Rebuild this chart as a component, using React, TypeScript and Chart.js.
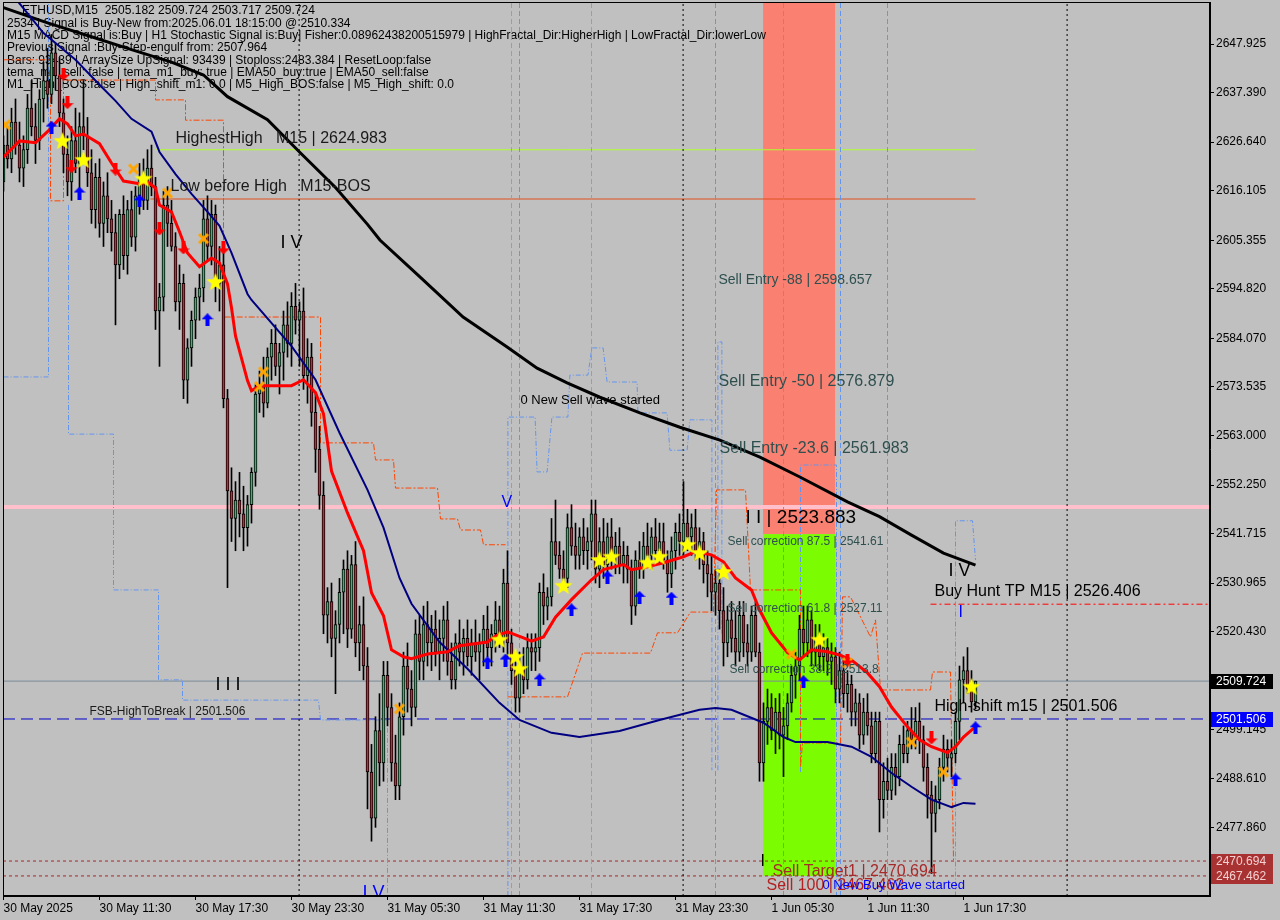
import React, { useEffect, useRef } from "react";
import { Chart, registerables } from "chart.js";
Chart.register(...registerables);

// ---------------- DATA ----------------
const opens = [
  2618,2626,2623,2631,2626,2621,2625,2634,2630,2627,
  2636,2640,2637,2646,2641,2633,2624,2618,2627,2622,
  2630,2628,2620,2612,2619,2609,2615,2610,2607,2600,
  2611,2602,2612,2606,2615,2619,2614,2621,2617,2590,
  2593,2613,2609,2604,2592,2596,2575,2582,2588,2593,
  2595,2610,2604,2611,2596,2600,2571,2551,2545,2549,
  2546,2543,2548,2555,2572,2574,2570,2580,2583,2578,
  2581,2587,2583,2591,2588,2590,2576,2580,2568,2560,
  2550,2524,2527,2519,2522,2529,2534,2521,2535,2518,
  2522,2513,2490,2480,2499,2492,2511,2504,2492,2487,
  2502,2513,2508,2504,2520,2514,2522,2518,2521,2516,
  2519,2523,2514,2510,2518,2516,2519,2515,2518,2516,
  2518,2521,2517,2520,2523,2519,2531,2518,2512,2506,
  2513,2510,2517,2516,2517,2529,2526,2528,2540,2537,
  2534,2532,2543,2539,2537,2541,2538,2540,2546,2534,
  2540,2535,2541,2537,2539,2535,2537,2534,2526,2536,
  2534,2539,2537,2541,2538,2540,2536,2533,2538,2542,
  2540,2544,2541,2543,2538,2540,2535,2533,2529,2531,
  2525,2518,2523,2519,2516,2524,2518,2516,2524,2516,
  2492,2501,2504,2499,2503,2498,2500,2505,2511,2513,
  2521,2518,2523,2516,2519,2515,2517,2514,2515,2508,
  2512,2507,2509,2503,2505,2498,2503,2500,2494,2501,
  2484,2488,2486,2491,2489,2496,2494,2499,2497,2501,
  2497,2491,2485,2481,2484,2491,2495,2493,2494,2501,
  2510,2512,2508,2505.182,
];
const highs = [
  2628,2630,2634,2636,2631,2628,2637,2640,2635,2638,
  2644,2647,2650,2648,2645,2636,2628,2630,2634,2633,
  2640,2632,2625,2622,2623,2618,2620,2614,2611,2612,
  2615,2614,2616,2617,2622,2623,2625,2626,2619,2596,
  2616,2617,2614,2607,2600,2598,2584,2590,2595,2598,
  2614,2615,2614,2613,2604,2603,2573,2556,2553,2555,
  2552,2550,2556,2574,2577,2580,2582,2586,2587,2583,
  2590,2592,2594,2596,2592,2595,2584,2583,2572,2565,
  2553,2530,2531,2525,2532,2536,2538,2537,2540,2526,
  2528,2517,2496,2502,2507,2514,2514,2507,2498,2505,
  2516,2518,2512,2523,2524,2526,2527,2524,2525,2523,
  2526,2527,2518,2520,2523,2521,2523,2521,2523,2520,
  2524,2526,2522,2527,2526,2534,2538,2521,2516,2516,
  2517,2520,2520,2520,2531,2533,2530,2545,2549,2540,
  2538,2546,2548,2544,2543,2545,2543,2549,2549,2543,
  2545,2544,2545,2542,2543,2540,2539,2536,2538,2540,
  2542,2544,2543,2545,2544,2544,2538,2541,2544,2546,
  2553,2547,2546,2547,2543,2542,2538,2537,2534,2534,
  2530,2526,2527,2525,2527,2527,2522,2526,2527,2518,
  2505,2508,2507,2506,2507,2504,2507,2513,2516,2524,
  2526,2526,2525,2522,2522,2520,2519,2518,2517,2516,
  2515,2512,2511,2508,2507,2506,2507,2503,2503,2503,
  2492,2493,2494,2494,2498,2500,2501,2504,2504,2505,
  2500,2494,2488,2487,2493,2498,2497,2497,2503,2513,
  2515,2517,2512,2509.724,
];
const lows = [
  2616,2621,2620,2624,2618,2617,2622,2628,2622,2625,
  2631,2634,2635,2638,2630,2620,2615,2614,2620,2616,
  2625,2617,2609,2608,2606,2604,2607,2603,2587,2597,
  2599,2598,2604,2603,2611,2612,2612,2615,2586,2578,
  2590,2604,2603,2590,2586,2571,2570,2578,2584,2588,
  2592,2601,2600,2592,2590,2569,2530,2540,2538,2541,
  2538,2539,2544,2552,2568,2567,2569,2575,2576,2572,
  2575,2580,2578,2585,2578,2573,2570,2565,2555,2547,
  2520,2518,2515,2507,2518,2520,2517,2519,2515,2512,
  2510,2482,2475,2478,2487,2488,2500,2488,2484,2484,
  2498,2503,2500,2502,2510,2510,2513,2512,2513,2510,
  2514,2511,2508,2508,2513,2511,2513,2511,2514,2510,
  2513,2515,2513,2516,2517,2516,2515,2509,2503,2503,
  2507,2508,2512,2512,2514,2522,2523,2526,2535,2532,
  2530,2530,2537,2534,2534,2535,2534,2536,2531,2530,
  2532,2531,2534,2533,2533,2531,2531,2522,2524,2532,
  2532,2535,2534,2536,2535,2534,2529,2530,2534,2537,
  2537,2538,2537,2536,2534,2531,2528,2525,2524,2521,
  2513,2515,2516,2513,2514,2515,2513,2514,2515,2488,
  2488,2496,2497,2494,2495,2489,2497,2503,2506,2510,
  2515,2515,2513,2513,2512,2512,2511,2509,2505,2505,
  2504,2503,2500,2500,2495,2496,2498,2492,2492,2477,
  2480,2484,2484,2485,2487,2492,2492,2495,2495,2494,
  2488,2480,2468,2477,2482,2488,2490,2489,2492,2497,
  2505,2507,2503,2503.717,
];
const closes = [
  2626,2623,2631,2626,2621,2625,2634,2630,2627,2636,
  2640,2637,2646,2641,2633,2624,2618,2627,2622,2630,
  2628,2620,2612,2619,2609,2615,2610,2607,2600,2611,
  2602,2612,2606,2615,2619,2614,2621,2617,2590,2593,
  2613,2609,2604,2592,2596,2575,2582,2588,2593,2595,
  2610,2604,2611,2596,2600,2571,2551,2545,2549,2546,
  2543,2548,2555,2572,2574,2570,2580,2583,2578,2581,
  2587,2583,2591,2588,2590,2576,2580,2568,2560,2550,
  2524,2527,2519,2522,2529,2534,2521,2535,2518,2522,
  2513,2490,2480,2499,2492,2511,2504,2492,2487,2502,
  2513,2508,2504,2520,2514,2522,2518,2521,2516,2519,
  2523,2514,2510,2518,2516,2519,2515,2518,2516,2518,
  2521,2517,2520,2523,2519,2531,2518,2512,2506,2513,
  2510,2517,2516,2517,2529,2526,2528,2540,2537,2534,
  2532,2543,2539,2537,2541,2538,2540,2546,2534,2540,
  2535,2541,2537,2539,2535,2537,2534,2526,2536,2534,
  2539,2537,2541,2538,2540,2536,2533,2538,2542,2540,
  2544,2541,2543,2538,2540,2535,2533,2529,2531,2525,
  2518,2523,2519,2516,2524,2518,2516,2524,2516,2492,
  2501,2504,2499,2503,2498,2500,2505,2511,2513,2521,
  2518,2523,2516,2519,2515,2517,2514,2515,2508,2512,
  2507,2509,2503,2505,2498,2503,2500,2494,2501,2484,
  2488,2486,2491,2489,2496,2494,2499,2497,2501,2497,
  2491,2485,2481,2484,2491,2495,2493,2494,2501,2510,
  2512,2508,2505.182,2509.724,
];

// moving averages (bar index, price)
const redEmaX = [0,4,8,11,14,16,18,20,24,27,30,34,36,38,39,42,44,46,49,52,54,56,57,58,61,62,64,68,72,75,78,80,82,86,90,92,95,97,100,102,106,111,114,121,123,126,130,132,135,138,142,147,150,155,157,161,165,170,173,177,180,183,187,189,192,196,199,202,206,209,212,216,219,222,226,229,232,236,238,240,242,243];
const redEmaY = [2623.4,2626.9,2626.5,2628.9,2631.7,2630.6,2628.0,2628.4,2626.3,2622.1,2618.2,2617.6,2618.0,2616.7,2613.0,2611.5,2607.2,2602.6,2599.6,2601.5,2600.4,2595.9,2590.7,2584.6,2574.9,2572.7,2573.8,2573.8,2573.8,2575.1,2572.3,2567.7,2555.3,2546.2,2538.0,2528.9,2523.9,2516.5,2515.0,2514.6,2515.6,2516.1,2517.4,2518.2,2519.5,2520.4,2519.1,2518.4,2519.3,2523.6,2527.4,2531.7,2533.9,2535.0,2533.9,2534.5,2535.4,2536.7,2537.8,2537.1,2535.6,2532.1,2529.5,2525.2,2520.2,2515.9,2514.3,2516.5,2516.1,2515.4,2514.3,2511.5,2508.5,2504.1,2499.8,2497.0,2495.5,2494.2,2495.5,2497.6,2499.1,2499.8];
const navyMaX = [0,10,18,24,28,32,37,39,43,47,51,54,57,61,62,72,78,84,91,95,99,102,109,116,124,129,137,144,154,164,174,178,182,190,195,198,206,212,217,222,227,232,237,240,243];
const navyMaY = [2661.0,2650.3,2644.5,2639.1,2635.6,2631.7,2628.9,2624.5,2619.7,2615.4,2611.5,2608.5,2602.6,2593.7,2592.4,2582.4,2575.1,2563.6,2551.2,2543.0,2532.1,2526.5,2518.2,2512.4,2505.0,2501.3,2498.5,2497.6,2498.9,2501.3,2503.5,2503.9,2503.5,2500.7,2497.6,2496.5,2496.5,2495.5,2493.3,2489.8,2486.8,2484.0,2482.4,2483.3,2483.1];
const blackMaX = [0,11,22,32,42,50,56,66,74,83,91,94.1,104.1,114.9,125.9,133.4,140.9,149.1,159.1,169.1,179.1,189.1,199.1,211,219,227,235,243];
const blackMaY = [2655.8,2652.5,2649.5,2646.7,2644.0,2641.2,2636.5,2631.5,2624.5,2616.8,2608.8,2605.4,2597.4,2588.7,2582.2,2577.6,2574.4,2571.3,2567.9,2564.8,2562.0,2558.3,2554.0,2548.6,2545.4,2541.4,2537.5,2534.9];

// dashed step bands
const orangeStep1X = [0,11.75,11.75,15,15,38,38,45.5,45.5,55,55,79.25,79.25,92.5,93,97.5,98,108.5,109.25,113.5,114.25,119.25,120,125.5];
const orangeStep1Y = [2644.5,2644.5,2613.9,2613.9,2640.1,2640.1,2635.8,2635.8,2631.4,2631.4,2588.7,2588.7,2561.4,2561.4,2557.7,2557.7,2551.6,2551.6,2544.9,2544.9,2542.5,2542.5,2539.3,2539.3];
const orangeStep2X = [126,141,144.75,161.75,163.5,168.5,171.75,177.5];
const orangeStep2Y = [2506.3,2506.3,2515.8,2515.8,2520.2,2520.2,2524.7,2524.7];
const orangeStep3X = [177.5,178.25,185.5,186.75,199.25,199.25,199.75,209.25,209.75,211.75,216.75,218,219.25,231.75,232.25,236.75,237.5];
const orangeStep3Y = [2524.7,2551.2,2551.2,2529.5,2529.5,2491.1,2496.3,2496.3,2528.0,2528.0,2519.3,2523.0,2507.8,2507.8,2511.7,2511.7,2470.9];
const blueStep1X = [0,11.25,11.25];
const blueStep1Y = [2575.7,2575.7,2660];
const blueStep2X = [16.25,16.25,27.5,27.5,38.75,38.75,44.75,44.75,78.75,79.25,96,96];
const blueStep2Y = [2613.0,2563.3,2563.3,2529.5,2529.5,2510.0,2510.0,2505.6,2505.6,2501.3,2501.3,2460];
const blueStep3X = [126.1,126.1,132.9,133.4,135.9,137.1,141.1,141.6,146.1,147.1,149.9,150.9,158.4,158.6,165.9,166.6,170.9,171.6,177.1,177.1];
const blueStep3Y = [2463.1,2567.0,2567.0,2555.1,2555.1,2567.0,2567.0,2576.1,2576.1,2582.0,2582.0,2574.6,2574.6,2567.9,2567.9,2559.8,2559.8,2566.4,2566.4,2490.4];
const blueStep4X = [178.6,178.6,179.6,179.6];
const blueStep4Y = [2490.4,2583.3,2583.3,2520];
const blueStep5X = [199.25,199.25,208.25,208.25];
const blueStep5Y = [2490,2556.6,2556.6,2460];
const blueStep6X = [238,238,242.25,243];
const blueStep6Y = [2463,2544.5,2544.5,2536];

// horizontal levels
const highestHigh = 2624.983;
const lowBeforeHigh = 2614.3;
const pinkLevel = 2547.5;
const bidPrice = 2509.724;
const fsbHigh = 2501.506;
const buyHuntTP = 2526.406;
const sellTarget1 = 2470.694;
const sell100 = 2467.462;
const highestHighFrom = 38;
const lowBeforeHighFrom = 36.75;
const buyHuntFrom = 231.75;
const levelsEnd = 243;

// zones
const zoneFrom = 189.9;
const zoneTo = 207.9;
const zoneSplit = 2541.61;
const zoneBottom = 2467.462;

// vertical separators
const daySeparators = [73.9, 169.9, 265.9];
const pinkVLines = [127, 147];
const cyanVLines = [129, 195, 221];
const blueVLines = [178, 209.25];

// markers
const starX = [14.75,20,35,53,124,128,129,140,149,152,161,164,171,174,180,204,242];
const starY = [2626.9,2622.8,2618.7,2596.3,2518.7,2515.0,2512.4,2530.4,2536.0,2536.7,2535.4,2536.7,2539.3,2537.5,2533.4,2518.7,2508.5];
const crossX = [0.5,32.5,41,50,64,65,99,197,211,227,235];
const crossY = [2630.4,2620.8,2615.6,2605.7,2573.6,2576.8,2503.7,2515.6,2513.7,2496.5,2490.0];
const upArrowX = [12,19,34,51,121,125.5,134,142,151,159,167,200,238,243];
const upArrowY = [2629.9,2615.6,2613.9,2588.1,2513.7,2514.3,2510.0,2525.2,2532.3,2527.9,2527.7,2509.6,2488.3,2499.6];
const downArrowX = [15,16,17,28,39,45,55,211,232];
const downArrowY = [2641.4,2635.2,2621.3,2620.8,2607.8,2603.7,2603.7,2514.3,2497.4];

// axes
const yTickValues = [2647.925,2637.390,2626.640,2616.105,2605.355,2594.820,2584.070,2573.535,2563.000,2552.250,2541.715,2530.965,2520.430,2499.145,2488.610,2477.860];
const xTickIdx = [0,24,48,72,96,120,144,168,192,216,240];
const xTickLabels = ["30 May 2025","30 May 11:30","30 May 17:30","30 May 23:30","31 May 05:30","31 May 11:30","31 May 17:30","31 May 23:30","1 Jun 05:30","1 Jun 11:30","1 Jun 17:30"];
const priceTags = [2509.724, 2501.506, 2470.694, 2467.462];

// texts
const headerLines = [
  "ETHUSD,M15  2505.182 2509.724 2503.717 2509.724",
  "2534 | Signal is Buy-New from:2025.06.01 18:15:00 @ 2510.334",
  "M15 MACD Signal is:Buy | H1 Stochastic Signal is:Buy| Fisher:0.08962438200515979 | HighFractal_Dir:HigherHigh | LowFractal_Dir:lowerLow",
  "Previous Signal :Buy-Step-engulf from: 2507.964",
  "Bars: 93439 | ArraySize UpSignal: 93439 | Stoploss:2483.384 | ResetLoop:false",
  "tema_m1_sell: false | tema_m1_buy: true | EMA50_buy:true | EMA50_sell:false",
  "M1_High_BOS:false | High_shift_m1: 0.0 | M5_High_BOS:false | M5_High_shift: 0.0",
];
const annText = ["HighestHigh   M15 | 2624.983","Low before High   M15-BOS","I V","Sell Entry -88 | 2598.657","Sell Entry -50 | 2576.879","Sell Entry -23.6 | 2561.983","0 New Sell wave started","V","I I | 2523.883","Sell correction 87.5 | 2541.61","Sell correction 61.8 | 2527.11","Sell correction 38.2 | 2513.8","I V","Buy Hunt TP M15 | 2526.406","I","High-shift m15 | 2501.506","I I I","FSB-HighToBreak | 2501.506","I","Sell 100 | 2467.462","Sell Target1 | 2470.694","0 New Buy Wave started","I V"];
const annX = [43,41.75,69.25,178.75,178.75,179,129.25,124.5,185.5,181,181,181.5,236.25,232.75,238.75,232.75,53,21.5,189.25,190.75,192.25,204.75,89.75];
const annY = [2627.5,2616.9,2604.8,2596.7,2574.8,2560.1,2570.7,2548.4,2545.1,2539.9,2525.4,2512.1,2533.6,2529.1,2524.5,2504.1,2508.9,2503.0,2470.5,2465.3,2468.5,2465.3,2463.8];

// ---------------- STYLES ----------------
const FONT = "'Liberation Sans', Arial, sans-serif";
const annSize = [16,16,18,14,16,16,13,16,19,12,12,12,18,16,16,16,18,12,16,16,16,13,18];
const annColor = ["#1a1a1a","#1a1a1a","#000","#2f4f4f","#2f4f4f","#2f4f4f","#000","#0000ff","#000","#2f4f4f","#2f4f4f","#2f4f4f","#000","#000","#0000ff","#000","#000","#1a1a1a","#000","#b22222","#a52a2a","#0000ff","#0000ff"];
const tagBg = ["#000000", "#0000ff", "#a83232", "#a83232"];
const tagFg = ["#ffffff", "#ffffff", "#f4d0d0", "#f4d0d0"];
const BULL = "#3cb371";
const BEAR = "#c82837";

function makeArrow(color: string, up: boolean) {
  const c = document.createElement("canvas");
  c.width = 12; c.height = 13;
  const g = c.getContext("2d")!;
  g.fillStyle = color;
  g.beginPath();
  if (up) {
    g.moveTo(6, 0); g.lineTo(12, 6); g.lineTo(8, 6); g.lineTo(8, 13); g.lineTo(4, 13); g.lineTo(4, 6); g.lineTo(0, 6);
  } else {
    g.moveTo(6, 13); g.lineTo(12, 7); g.lineTo(8, 7); g.lineTo(8, 0); g.lineTo(4, 0); g.lineTo(4, 7); g.lineTo(0, 7);
  }
  g.closePath(); g.fill();
  return c;
}
function makeStar() {
  const c = document.createElement("canvas");
  c.width = 20; c.height = 20;
  const g = c.getContext("2d")!;
  g.fillStyle = "#ffff00";
  g.beginPath();
  for (let k = 0; k < 10; k++) {
    const r = k % 2 === 0 ? 9.5 : 4;
    const a = -Math.PI / 2 + (k * Math.PI) / 5;
    const px = 10 + r * Math.cos(a), py = 10.5 + r * Math.sin(a);
    if (k === 0) g.moveTo(px, py); else g.lineTo(px, py);
  }
  g.closePath(); g.fill();
  return c;
}
function makeCross() {
  const c = document.createElement("canvas");
  c.width = 13; c.height = 13;
  const g = c.getContext("2d")!;
  g.strokeStyle = "#ffa500"; g.lineWidth = 3;
  g.beginPath(); g.moveTo(2, 2); g.lineTo(11, 11); g.moveTo(11, 2); g.lineTo(2, 11); g.stroke();
  return c;
}

const pts = (xs: number[], ys: number[]) => xs.map((x, k) => ({ x, y: ys[k] }));
const lineDs = (data: any[], color: string, width: number, dash: number[], order: number) => ({
  type: "line", data, borderColor: color, borderWidth: width, borderDash: dash,
  pointRadius: 0, fill: false, tension: 0, order, spanGaps: false,
});

export default function App() {
  const ref = useRef<HTMLCanvasElement | null>(null);
  useEffect(() => {
    const canvas = ref.current!;
    const star = makeStar(), cross = makeCross();
    const upA = makeArrow("#0000ff", true), downA = makeArrow("#ff0000", false);
    const X0 = -0.125, X1 = 301.625, Y0 = 2463.109, Y1 = 2657.036;

    const datasets: any[] = [];
    // levels
    datasets.push(lineDs([{ x: X0, y: pinkLevel }, { x: X1, y: pinkLevel }], "#ffc0cb", 4, [], 100));
    datasets.push(lineDs([{ x: highestHighFrom, y: highestHigh }, { x: levelsEnd, y: highestHigh }], "#adff2f", 1, [], 99));
    datasets.push(lineDs([{ x: lowBeforeHighFrom, y: lowBeforeHigh }, { x: levelsEnd, y: lowBeforeHigh }], "#e0501e", 1, [], 99));
    datasets.push(lineDs([{ x: X0, y: bidPrice }, { x: X1, y: bidPrice }], "#7a8a99", 1, [], 99));
    datasets.push(lineDs([{ x: X0, y: fsbHigh }, { x: X1, y: fsbHigh }], "#0000c8", 1, [12, 6], 99));
    datasets.push(lineDs([{ x: buyHuntFrom, y: buyHuntTP }, { x: X1, y: buyHuntTP }], "#ff0000", 1, [6, 3, 2, 3], 99));
    datasets.push(lineDs([{ x: X0, y: sellTarget1 }, { x: X1, y: sellTarget1 }], "#a52a2a", 1, [3, 3], 99));
    datasets.push(lineDs([{ x: X0, y: sell100 }, { x: X1, y: sell100 }], "#a52a2a", 1, [3, 3], 99));
    // vertical lines
    daySeparators.forEach((v) => datasets.push(lineDs([{ x: v, y: Y0 }, { x: v, y: Y1 }], "#000000", 1, [2, 3], 95)));
    pinkVLines.forEach((v) => datasets.push(lineDs([{ x: v, y: Y0 }, { x: v, y: Y1 }], "#ff69b4", 1, [5, 3], 95)));
    cyanVLines.forEach((v) => datasets.push(lineDs([{ x: v, y: Y0 }, { x: v, y: Y1 }], "#00ced1", 1, [5, 3], 95)));
    blueVLines.forEach((v) => datasets.push(lineDs([{ x: v, y: Y0 }, { x: v, y: Y1 }], "#6495ed", 1, [5, 3], 95)));
    // step bands
    const oDash = [6, 2, 2, 2], bDash = [5, 2, 1, 2];
    datasets.push(lineDs(pts(orangeStep1X, orangeStep1Y), "#ff4500", 1, oDash, 90));
    datasets.push(lineDs(pts(orangeStep2X, orangeStep2Y), "#ff4500", 1, oDash, 90));
    datasets.push(lineDs(pts(orangeStep3X, orangeStep3Y), "#ff4500", 1, oDash, 90));
    datasets.push(lineDs(pts(blueStep1X, blueStep1Y), "#6495ed", 1, bDash, 90));
    datasets.push(lineDs(pts(blueStep2X, blueStep2Y), "#6495ed", 1, bDash, 90));
    datasets.push(lineDs(pts(blueStep3X, blueStep3Y), "#6495ed", 1, bDash, 90));
    datasets.push(lineDs(pts(blueStep4X, blueStep4Y), "#6495ed", 1, bDash, 90));
    datasets.push(lineDs(pts(blueStep5X, blueStep5Y), "#6495ed", 1, bDash, 90));
    datasets.push(lineDs(pts(blueStep6X, blueStep6Y), "#6495ed", 1, bDash, 90));
    // candles
    datasets.push({
      type: "bar", order: 70, grouped: false, barThickness: 1,
      data: lows.map((l, i) => ({ x: i, y: [l, highs[i]] })),
      backgroundColor: "#000000", borderWidth: 0,
    });
    datasets.push({
      type: "bar", order: 60, grouped: false, barThickness: 3,
      data: opens.map((o, i) => ({ x: i, y: [o, closes[i]] })),
      backgroundColor: (c: any) => (closes[c.dataIndex] >= opens[c.dataIndex] ? BULL : BEAR),
      borderColor: "#000000", borderWidth: 1, borderSkipped: false,
    });
    // MAs
    datasets.push(lineDs(pts(blackMaX, blackMaY), "#000000", 3, [], 50));
    datasets.push(lineDs(pts(navyMaX, navyMaY), "#000080", 2, [], 45));
    datasets.push(lineDs(pts(redEmaX, redEmaY), "#ff0000", 3, [], 40));
    // markers
    const mk = (xs: number[], ys: number[], img: any, order: number) => ({
      type: "line", data: pts(xs, ys), showLine: false, pointStyle: img, pointRadius: 6, order,
    });
    datasets.push(mk(crossX, crossY, cross, 12));
    datasets.push(mk(upArrowX, upArrowY, upA, 11));
    datasets.push(mk(downArrowX, downArrowY, downA, 11));
    datasets.push(mk(starX, starY, star, 10));

    const bgPlugin = {
      id: "bg",
      beforeDraw(chart: any) {
        const ctx = chart.ctx;
        ctx.save(); ctx.fillStyle = "#c0c0c0"; ctx.fillRect(0, 0, chart.width, chart.height); ctx.restore();
      },
      beforeDatasetsDraw(chart: any) {
        const { ctx, chartArea: a, scales } = chart;
        const xs = scales.x, ys = scales.y;
        ctx.save();
        ctx.beginPath(); ctx.rect(a.left, a.top, a.right - a.left, a.bottom - a.top); ctx.clip();
        const x1 = xs.getPixelForValue(zoneFrom), x2 = xs.getPixelForValue(zoneTo);
        const ySplit = ys.getPixelForValue(zoneSplit), yBot = ys.getPixelForValue(zoneBottom);
        ctx.fillStyle = "#fa8072";
        ctx.fillRect(x1, a.top, x2 - x1, ySplit - a.top);
        ctx.fillStyle = "#7cfc00";
        ctx.fillRect(x1, ySplit, x2 - x1, yBot - ySplit);
        ctx.fillStyle = "#000"; ctx.font = `12px ${FONT}`; ctx.textBaseline = "middle"; ctx.textAlign = "left";
        headerLines.forEach((t, k) => ctx.fillText(t, k === 0 ? 22 : 7, 11 + k * 12.3));
        ctx.restore();
      },
      afterDatasetsDraw(chart: any) {
        const { ctx, chartArea: a, scales } = chart;
        const xs = scales.x, ys = scales.y;
        ctx.save();
        ctx.beginPath(); ctx.rect(a.left, a.top, a.right - a.left, a.bottom - a.top); ctx.clip();
        ctx.textBaseline = "middle"; ctx.textAlign = "left";
        annText.forEach((t, k) => {
          ctx.font = `${annSize[k]}px ${FONT}`;
          ctx.fillStyle = annColor[k];
          ctx.fillText(t, xs.getPixelForValue(annX[k]), ys.getPixelForValue(annY[k]));
        });
        ctx.restore();
        ctx.save();
        ctx.strokeStyle = "#000"; ctx.lineWidth = 1;
        ctx.strokeRect(a.left + 0.5, a.top + 0.5, a.right - a.left - 1, a.bottom - a.top - 1);
        ctx.restore();
      },
      afterDraw(chart: any) {
        const { ctx, chartArea: a, scales } = chart;
        const ys = scales.y;
        ctx.save();
        ctx.font = `12px ${FONT}`; ctx.textBaseline = "middle"; ctx.textAlign = "left";
        priceTags.forEach((v, k) => {
          const y = Math.round(ys.getPixelForValue(v));
          ctx.fillStyle = tagBg[k];
          ctx.fillRect(a.right + 1, y - 7, 62, 15);
          ctx.fillStyle = tagFg[k];
          ctx.fillText(v.toFixed(3), a.right + 6, y + 0.5);
        });
        ctx.restore();
      },
    };

    const chart = new Chart(canvas, {
      type: "bar",
      data: { datasets },
      options: {
        animation: false,
        responsive: false,
        devicePixelRatio: 1,
        events: [],
        layout: { padding: { left: 3, top: 2, right: 0, bottom: 0 }, autoPadding: false },
        plugins: { legend: { display: false }, tooltip: { enabled: false } },
        scales: {
          x: {
            type: "linear", min: X0, max: X1, offset: false,
            grid: { offset: false, drawOnChartArea: false, drawTicks: true, tickLength: 4, color: "#000" },
            border: { display: true, color: "#000" },
            ticks: {
              align: "start", maxRotation: 0, minRotation: 0, autoSkip: false, padding: 1, color: "#000",
              font: { family: FONT, size: 12 },
              callback: (_v: any, idx: number) => xTickLabels[idx] ?? "",
            },
            afterBuildTicks: (s: any) => { s.ticks = xTickIdx.map((v) => ({ value: v })); },
            afterFit: (s: any) => { s.height = 24; s.paddingLeft = 0; s.paddingRight = 0; },
          },
          y: {
            type: "linear", position: "right", min: Y0, max: Y1,
            grid: { drawOnChartArea: false, drawTicks: true, tickLength: 4, color: "#000" },
            border: { display: true, color: "#000" },
            ticks: {
              padding: 2, color: "#000", font: { family: FONT, size: 12 },
              callback: (v: any) => Number(v).toFixed(3),
            },
            afterBuildTicks: (s: any) => { s.ticks = yTickValues.map((v) => ({ value: v })); },
            afterFit: (s: any) => { s.width = 70; s.paddingTop = 0; s.paddingBottom = 0; },
          },
        },
      } as any,
      plugins: [bgPlugin],
    } as any);
    return () => chart.destroy();
  }, []);

  return (
    <div style={{ position: "absolute", left: 0, top: 0, width: 1280, height: 920, background: "#c0c0c0" }}>
      <canvas ref={ref} width={1280} height={920} style={{ display: "block", width: 1280, height: 920 }} />
    </div>
  );
}
